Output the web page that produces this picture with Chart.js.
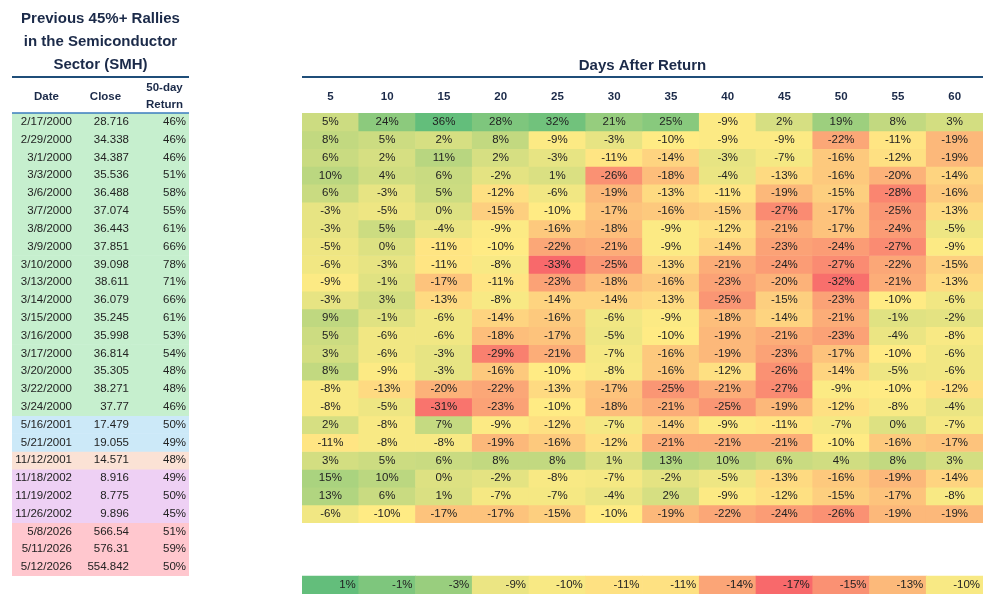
<!DOCTYPE html>
<html>
<head>
<meta charset="utf-8">
<title>Previous 45%+ Rallies in the Semiconductor Sector (SMH)</title>
<script src="https://cdn.jsdelivr.net/npm/chart.js@4.4.0/dist/chart.umd.min.js"></script>
<style>
  html, body { margin: 0; padding: 0; background: #fff; }
  #wrap { position: relative; width: 1000px; height: 606px; }
  #wrap canvas { position: absolute; left: 0; top: 0; }
</style>
</head>
<body>
<div id="wrap">
  <canvas id="heatChart" width="1000" height="606"></canvas>
  <canvas id="tableChart" width="200" height="606"></canvas>
</div>
<script>
// left table
const dates = ['2/17/2000', '2/29/2000', '3/1/2000', '3/3/2000', '3/6/2000', '3/7/2000', '3/8/2000',
  '3/9/2000', '3/10/2000', '3/13/2000', '3/14/2000', '3/15/2000', '3/16/2000', '3/17/2000',
  '3/20/2000', '3/22/2000', '3/24/2000', '5/16/2001', '5/21/2001', '11/12/2001', '11/18/2002',
  '11/19/2002', '11/26/2002', '5/8/2026', '5/11/2026', '5/12/2026'];
const closes = [28.716, 34.338, 34.387, 35.536, 36.488, 37.074, 36.443, 37.851, 39.098, 38.611,
  36.079, 35.245, 35.998, 36.814, 35.305, 38.271, 37.77, 17.479, 19.055, 14.571, 8.916, 8.775,
  9.896, 566.54, 576.31, 554.842];
const returns50 = [46, 46, 46, 51, 58, 55, 61, 66, 78, 71, 66, 61, 53, 54, 48, 48, 46, 50, 49, 48,
  49, 50, 45, 51, 59, 50];
const rallyGroup = [0, 0, 0, 0, 0, 0, 0, 0, 0, 0, 0, 0, 0, 0, 0, 0, 0, 1, 1, 2, 3, 3, 3, 4, 4, 4];
const tableColumns = ['Date', 'Close', ['50-day', 'Return']];

// heatmap: returns (%) N days after each date
const days = ['5', '10', '15', '20', '25', '30', '35', '40', '45', '50', '55', '60'];
const forwardReturns = [
  [5, 24, 36, 28, 32, 21, 25, -9, 2, 19, 8, 3],
  [8, 5, 2, 8, -9, -3, -10, -9, -9, -22, -11, -19],
  [6, 2, 11, 2, -3, -11, -14, -3, -7, -16, -12, -19],
  [10, 4, 6, -2, 1, -26, -18, -4, -13, -16, -20, -14],
  [6, -3, 5, -12, -6, -19, -13, -11, -19, -15, -28, -16],
  [-3, -5, 0, -15, -10, -17, -16, -15, -27, -17, -25, -13],
  [-3, 5, -4, -9, -16, -18, -9, -12, -21, -17, -24, -5],
  [-5, 0, -11, -10, -22, -21, -9, -14, -23, -24, -27, -9],
  [-6, -3, -11, -8, -33, -25, -13, -21, -24, -27, -22, -15],
  [-9, -1, -17, -11, -23, -18, -16, -23, -20, -32, -21, -13],
  [-3, 3, -13, -8, -14, -14, -13, -25, -15, -23, -10, -6],
  [9, -1, -6, -14, -16, -6, -9, -18, -14, -21, -1, -2],
  [5, -6, -6, -18, -17, -5, -10, -19, -21, -23, -4, -8],
  [3, -6, -3, -29, -21, -7, -16, -19, -23, -17, -10, -6],
  [8, -9, -3, -16, -10, -8, -16, -12, -26, -14, -5, -6],
  [-8, -13, -20, -22, -13, -17, -25, -21, -27, -9, -10, -12],
  [-8, -5, -31, -23, -10, -18, -21, -25, -19, -12, -8, -4],
  [2, -8, 7, -9, -12, -7, -14, -9, -11, -7, 0, -7],
  [-11, -8, -8, -19, -16, -12, -21, -21, -21, -10, -16, -17],
  [3, 5, 6, 8, 8, 1, 13, 10, 6, 4, 8, 3],
  [15, 10, 0, -2, -8, -7, -2, -5, -13, -16, -19, -14],
  [13, 6, 1, -7, -7, -4, 2, -9, -12, -15, -17, -8],
  [-6, -10, -17, -17, -15, -10, -19, -22, -24, -26, -19, -19]
];
const averageReturns = [1, -1, -3, -9, -10, -11, -11, -14, -17, -15, -13, -10];
const averageRow = 26;

// styles
const NAVY = '#1B2A49';
const TEXT = '#222222';
const groupColors = ['#C6EFCE', '#CCE9F8', '#FBE2D5', '#EED0F4', '#FFC7CE'];
const cellPad = [-1, 1, 3]; // right padding of the table columns
const RED = [248, 105, 107], YELLOW = [255, 235, 132], GREEN = [99, 190, 123];

Chart.defaults.font.family = '"Liberation Sans", Arial, sans-serif';

function percentile(arr, p) {
  const s = [...arr].sort((a, b) => a - b);
  const k = (s.length - 1) * p;
  const f = Math.floor(k);
  const c = Math.min(f + 1, s.length - 1);
  return s[f] + (s[c] - s[f]) * (k - f);
}

function mix(a, b, t) {
  const c = a.map((v, i) => Math.round(v + (b[i] - v) * t));
  return `rgb(${c[0]}, ${c[1]}, ${c[2]})`;
}

// 3-colour scale like a spreadsheet: min red, median yellow, max green
function colourScale(values) {
  const lo = Math.min(...values), hi = Math.max(...values), mid = percentile(values, 0.5);
  return v => v <= mid
    ? mix(RED, YELLOW, mid === lo ? 1 : (v - lo) / (mid - lo))
    : mix(YELLOW, GREEN, (v - mid) / (hi - mid));
}

const mainColour = colourScale(forwardReturns.flat());
const avgColour = colourScale(averageReturns);

const tableText = {
  id: 'tableText',
  afterDatasetsDraw(chart) {
    const ctx = chart.ctx;
    const area = chart.chartArea;
    ctx.save();
    ctx.font = '11.5px "Liberation Sans", Arial, sans-serif';
    ctx.fillStyle = TEXT;
    ctx.textAlign = 'right';
    ctx.textBaseline = 'middle';
    chart.data.datasets.forEach((ds, i) => {
      const cells = [dates[i], String(closes[i]), returns50[i] + '%'];
      chart.getDatasetMeta(i).data.forEach((bar, j) => {
        ctx.fillText(cells[j], bar.x + bar.width / 2 - cellPad[j], (bar.y + bar.base) / 2);
      });
    });
    ctx.strokeStyle = '#1F4E79';
    ctx.lineWidth = 2;
    ctx.beginPath();
    ctx.moveTo(area.left, chart.titleBlock.bottom + 0.5);
    ctx.lineTo(area.right, chart.titleBlock.bottom + 0.5);
    ctx.stroke();
    ctx.strokeStyle = '#3B7DBF';
    ctx.lineWidth = 1.5;
    ctx.beginPath();
    ctx.moveTo(area.left, area.top);
    ctx.lineTo(area.right, area.top);
    ctx.stroke();
    ctx.restore();
  }
};

const heatText = {
  id: 'heatText',
  afterDatasetsDraw(chart) {
    const ctx = chart.ctx;
    const area = chart.chartArea;
    ctx.save();
    ctx.font = '11.5px "Liberation Sans", Arial, sans-serif';
    ctx.fillStyle = TEXT;
    ctx.textBaseline = 'middle';
    chart.data.datasets.forEach((ds, i) => {
      chart.getDatasetMeta(i).data.forEach((bar, j) => {
        const label = ds.returns[j] + '%';
        const y = (bar.y + bar.base) / 2;
        if (ds.isAverage) {
          ctx.textAlign = 'right';
          ctx.fillText(label, bar.x + bar.width / 2 - 3, y);
        } else {
          ctx.textAlign = 'center';
          ctx.fillText(label, bar.x, y);
        }
      });
    });
    ctx.strokeStyle = '#1F4E79';
    ctx.lineWidth = 2;
    ctx.beginPath();
    ctx.moveTo(area.left, chart.titleBlock.bottom + 1);
    ctx.lineTo(area.right, chart.titleBlock.bottom + 1);
    ctx.stroke();
    ctx.restore();
  }
};

const headerFont = { size: 11.5, weight: 'bold', lineHeight: '17px' };

new Chart(document.getElementById('tableChart'), {
  type: 'bar',
  data: {
    labels: tableColumns,
    datasets: dates.map((d, i) => ({
      label: d,
      data: tableColumns.map(() => [i, i + 1]),
      backgroundColor: groupColors[rallyGroup[i]],
      grouped: false,
      barPercentage: 1,
      categoryPercentage: 1,
      borderWidth: 0
    }))
  },
  options: {
    responsive: false,
    animation: false,
    events: [],
    layout: { padding: { left: 12, right: 11, top: 0, bottom: 30 } },
    plugins: {
      legend: { display: false },
      tooltip: { enabled: false },
      title: {
        display: true,
        text: ['Previous 45%+ Rallies', 'in the Semiconductor', 'Sector (SMH)'],
        color: NAVY,
        font: { size: 15, weight: 'bold', lineHeight: '23px' },
        padding: { top: 7.5, bottom: 0 }
      }
    },
    scales: {
      x: {
        position: 'top',
        grid: { display: false, drawTicks: false },
        border: { display: false },
        ticks: {
          color: NAVY, padding: 8, maxRotation: 0, autoSkip: false,
          crossAlign: 'center', labelOffset: 5, font: headerFont
        },
        afterFit: s => { s.height = 36.5; }
      },
      y: { display: false, reverse: true, min: 0, max: dates.length }
    }
  },
  plugins: [tableText]
});

const heatSets = forwardReturns.map((row, i) => ({
  label: dates[i],
  returns: row,
  data: row.map(() => [i, i + 1]),
  backgroundColor: row.map(mainColour)
}));
heatSets.push({
  label: 'Average',
  isAverage: true,
  returns: averageReturns,
  data: averageReturns.map(() => [averageRow, averageRow + 1]),
  backgroundColor: averageReturns.map(avgColour)
});
heatSets.forEach(ds => Object.assign(ds, {
  grouped: false, barPercentage: 1, categoryPercentage: 1, borderWidth: 0
}));

new Chart(document.getElementById('heatChart'), {
  type: 'bar',
  data: { labels: days, datasets: heatSets },
  options: {
    responsive: false,
    animation: false,
    events: [],
    layout: { padding: { left: 302, right: 17, top: 0, bottom: 12 } },
    plugins: {
      legend: { display: false },
      tooltip: { enabled: false },
      title: {
        display: true,
        text: 'Days After Return',
        color: NAVY,
        font: { size: 15, weight: 'bold', lineHeight: '20px' },
        padding: { top: 56, bottom: 0 }
      }
    },
    scales: {
      x: {
        position: 'top',
        grid: { display: false, drawTicks: false },
        border: { display: false },
        ticks: {
          color: NAVY, padding: 8, maxRotation: 0, autoSkip: false,
          crossAlign: 'near', font: headerFont
        },
        afterFit: s => { s.height = 37; }
      },
      y: { display: false, reverse: true, min: 0, max: averageRow + 1 }
    }
  },
  plugins: [heatText]
});
</script>
</body>
</html>
